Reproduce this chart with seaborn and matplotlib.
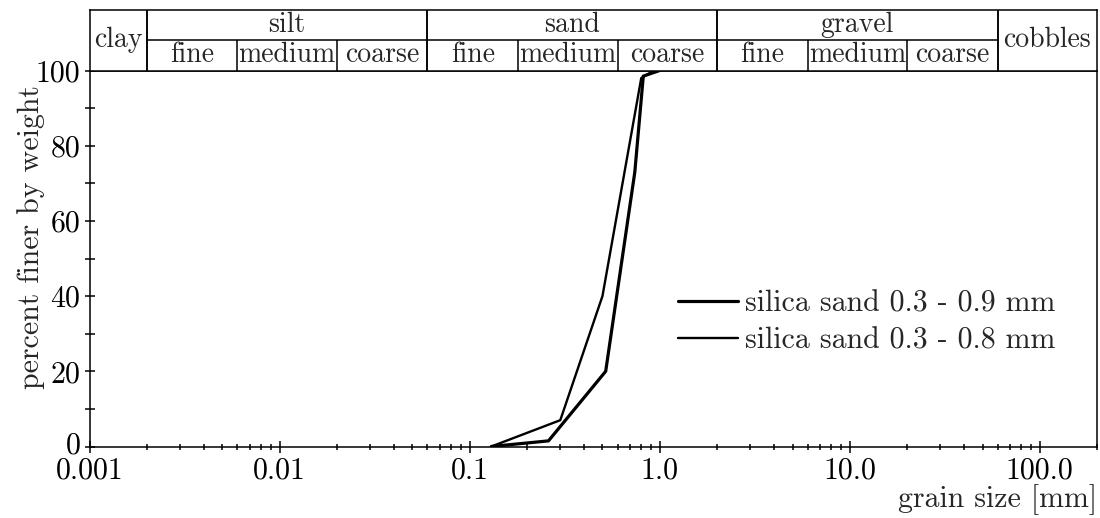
import numpy as np
import matplotlib
matplotlib.use("Agg")
import matplotlib.pyplot as plt
import matplotlib.ticker as mticker
import matplotlib.transforms as mtransforms
import seaborn as sns

sns.set_theme(style="ticks")
plt.rcParams['font.family'] = ['cmr10', 'DejaVu Serif']
plt.rcParams['mathtext.fontset'] = 'cm'
plt.rcParams['axes.unicode_minus'] = False

# grain size distribution curves
size_09 = [0.13, 0.26, 0.52, 0.74, 0.82, 1.0]
pct_09 = [0, 1.5, 20, 73, 98.5, 100]
size_08 = [0.13, 0.3, 0.5, 0.8, 0.9, 1.0]
pct_08 = [0, 7, 40, 98, 99.5, 100]
label_09 = "silica sand 0.3 - 0.9 mm"
label_08 = "silica sand 0.3 - 0.8 mm"

# soil classification header
main_classes = ["silt", "sand", "gravel"]
main_edges = [(0.002, 0.06), (0.06, 2.0), (2.0, 60.0)]
sub_classes = ["fine", "medium", "coarse"]
single_classes = [("clay", 0.001, 0.002), ("cobbles", 60.0, 200.0)]

x_ticks = [0.001, 0.01, 0.1, 1.0, 10.0, 100.0]
x_labels = ["0.001", "0.01", "0.1", "1.0", "10.0", "100.0"]
y_ticks = [0, 20, 40, 60, 80, 100]

fig = plt.figure(figsize=(11, 5.18), dpi=100)
L, R = 89.5 / 1100, 1097 / 1100
B, T = 1 - 446.5 / 518, 1 - 70.5 / 518
ax = fig.add_axes([L, B, R - L, T - B])
ax_t = fig.add_axes([L, T, R - L, 61 / 518])

sns.lineplot(x=size_09, y=pct_09, ax=ax, color="black", linewidth=2.3, label=label_09)
sns.lineplot(x=size_08, y=pct_08, ax=ax, color="black", linewidth=1.7, label=label_08)

ax.set_xscale("log")
ax.set_xlim(0.001, 200)
ax.set_ylim(0, 100)
ax.set_xticks(x_ticks)
ax.xaxis.set_major_formatter(mticker.FixedFormatter(x_labels))
ax.xaxis.set_minor_locator(mticker.LogLocator(base=10, subs=np.arange(2, 10), numticks=20))
ax.xaxis.set_minor_formatter(mticker.NullFormatter())
ax.set_yticks(y_ticks)
ax.yaxis.set_minor_locator(mticker.MultipleLocator(10))

ax.tick_params(axis="both", which="both", direction="inout", colors="black",
               labelsize=21.5, width=1.1)
ax.tick_params(axis="x", which="major", length=9, pad=3)
ax.tick_params(axis="x", which="minor", length=5)
ax.tick_params(axis="y", which="both", length=7, pad=3)

# lift the "0" label a little so it clears "0.001"
zero_lbl = ax.get_yticklabels()[0]
zero_lbl.set_transform(zero_lbl.get_transform() +
                       mtransforms.ScaledTranslation(0, 3 / 72, fig.dpi_scale_trans))

for sp in ax.spines.values():
    sp.set_color("black")
    sp.set_linewidth(1.1)

ax.set_xlabel("grain size [mm]", fontsize=21.5)
ax.xaxis.set_label_coords(1.0, -0.142)
ax.xaxis.label.set_ha("right")
ax.xaxis.label.set_va("center")
ax.set_ylabel("percent finer by weight", fontsize=21.5)
ax.yaxis.set_label_coords(-0.058, 0.557)
ax.yaxis.label.set_va("center")

ax.legend(loc="center left", bbox_to_anchor=(0.584, 0.33), frameon=False,
          fontsize=21.5, handlelength=2.0, handletextpad=0.25,
          labelspacing=0.3, borderpad=0, borderaxespad=0)

# header table
ax_t.set_xscale("log")
ax_t.set_xlim(0.001, 200)
ax_t.set_ylim(0, 2)
ax_t.set_xticks([])
ax_t.set_yticks([])
ax_t.xaxis.set_minor_locator(mticker.NullLocator())
for sp in ax_t.spines.values():
    sp.set_color("black")
    sp.set_linewidth(1.1)
ax_t.set_facecolor("white")

fs_t = 20
for name, lo, hi in single_classes:
    ax_t.text(np.sqrt(lo * hi), 1.0, name, ha="center", va="center", fontsize=fs_t)
ax_t.vlines([0.002, 60.0], 0, 2, color="black", linewidth=1.1)
for name, (lo, hi) in zip(main_classes, main_edges):
    ax_t.vlines([lo, hi], 0, 2, color="black", linewidth=1.1)
    ax_t.hlines(1, lo, hi, color="black", linewidth=1.1)
    ax_t.text(np.sqrt(lo * hi), 1.5, name, ha="center", va="center", fontsize=fs_t)
    edges = [lo, lo * 3, lo * 10, hi]
    ax_t.vlines(edges[1:3], 0, 1, color="black", linewidth=1.1)
    for sub, a, b in zip(sub_classes, edges[:-1], edges[1:]):
        ax_t.text(np.sqrt(a * b), 0.5, sub, ha="center", va="center", fontsize=fs_t)

fig.savefig("out.png", dpi=100, facecolor="white")
